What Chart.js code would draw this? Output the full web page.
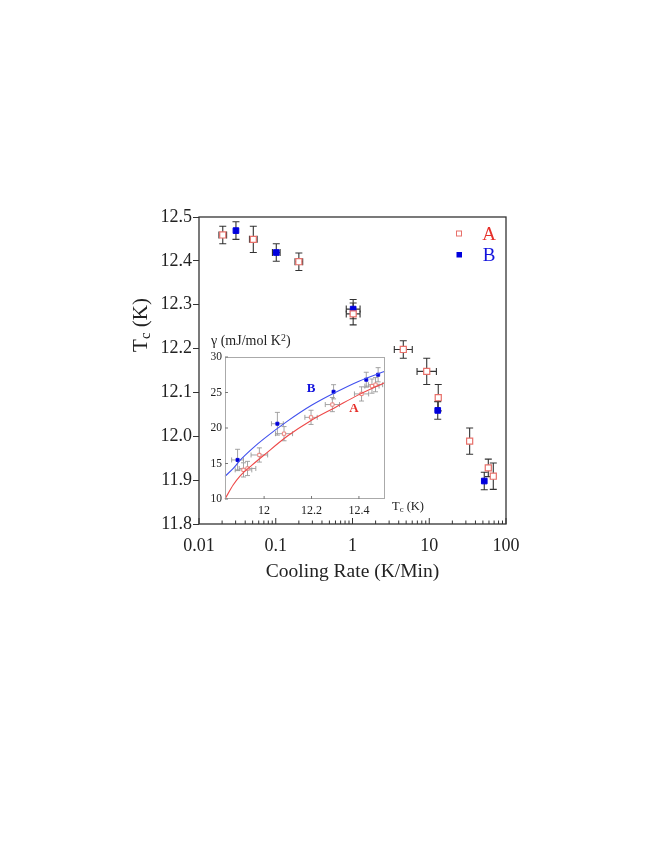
<!DOCTYPE html>
<html>
<head>
<meta charset="utf-8">
<script src="https://cdn.jsdelivr.net/npm/chart.js@4.4.1/dist/chart.umd.min.js"></script>
<style>
  body { margin: 0; background: #fff; }
  #wrap { position: relative; width: 664px; height: 860px; font-family: "Liberation Serif", serif; color: #222; }
  #main { position: absolute; left: 0; top: 0; }
  #insetBox { position: absolute; left: 200px; top: 340px; width: 230px; height: 185px; }
  .lbl { position: absolute; white-space: nowrap; line-height: 1; }
  .lbl sub { font-size: 70%; vertical-align: -0.25em; line-height: 0; }
  .lbl sup { font-size: 70%; vertical-align: 0.45em; line-height: 0; }
  #ytitle { left: 140px; top: 325px; font-size: 21px; transform: translate(-50%, -50%) rotate(-90deg); }
  #gammaLbl { left: 211px; top: 334px; font-size: 14px; }
  #tcLbl { left: 392px; top: 500px; font-size: 12.5px; }
</style>
</head>
<body>
<div id="wrap">
  <canvas id="main" width="664" height="860"></canvas>
  <div id="insetBox"><canvas id="inset" width="230" height="185"></canvas></div>
  <div class="lbl" id="ytitle">T<sub>c</sub> (K)</div>
  <div class="lbl" id="gammaLbl">&gamma; (mJ/mol K<sup>2</sup>)</div>
  <div class="lbl" id="tcLbl">T<sub>c</sub> (K)</div>
</div>
<script>
// -------- MAIN DATA --------
const rateA = [0.0204, 0.051, 0.2, 1.02, 4.59, 9.27, 13.1, 33.6, 58.8, 68.3];
const tcA = [12.459, 12.449, 12.398, 12.279, 12.198, 12.148, 12.088, 11.989, 11.928, 11.909];
const tcErrA = [0.02, 0.03, 0.02, 0.025, 0.02, 0.03, 0.03, 0.03, 0.02, 0.03];
const rateErrA = [0.05, 0.05, 0.05, 0.09, 0.117, 0.126, 0, 0, 0, 0]; // decades

const rateB = [0.0303, 0.1016, 1.02, 12.9, 52.1];
const tcB = [12.469, 12.419, 12.290, 12.059, 11.898];
const tcErrB = [0.02, 0.02, 0.022, 0.02, 0.02];
const rateErrB = [0, 0.05, 0.09, 0, 0];

const xTickVals = [0.01, 0.1, 1, 10, 100];
const xTickLabels = ["0.01", "0.1", "1", "10", "100"];
const yTickVals = [11.8, 11.9, 12.0, 12.1, 12.2, 12.3, 12.4, 12.5];

// -------- INSET DATA --------
const insTcA = [11.913, 11.93, 11.98, 12.084, 12.198, 12.288, 12.411, 12.455, 12.47];
const insGammaA = [14.1, 14.3, 16.2, 19.2, 21.5, 23.3, 24.8, 25.9, 26.1];
const insGammaErrA = [1.0, 1.0, 1.0, 1.0, 1.0, 1.0, 1.0, 1.0, 1.0];
const insTcErrA = [0.035, 0.035, 0.035, 0.036, 0.026, 0.03, 0.03, 0.03, 0.03];

const insTcB = [11.888, 12.056, 12.293, 12.431, 12.481];
const insGammaB = [15.5, 20.6, 25.1, 26.8, 27.5];
const insGammaErrB = [1.5, 1.6, 1.0, 1.05, 1.0];
const insTcErrB = [0.025, 0.025, 0, 0, 0];

// fitted curves
const curveTc = [11.835, 11.87, 11.9, 11.95, 12.0, 12.1, 12.2, 12.3, 12.4, 12.51];
const curveA = [10.0, 12.0, 13.3, 14.8, 16.2, 18.9, 21.1, 22.9, 24.7, 26.4];
const curveB = [13.2, 14.3, 15.5, 17.1, 18.5, 21.0, 23.2, 25.0, 26.6, 28.0];

const insXTicks = [12, 12.2, 12.4];
const insXLabels = ["12", "12.2", "12.4"];
const insYTicks = [10, 15, 20, 25, 30];

const FONT = "Liberation Serif";
const RED = "#e6302a", BLUE = "#1212dd";

// -------- PLUGINS --------
const errorBars = {
    id: "errorBars",
    beforeDatasetsDraw(chart, args, opts) {
        const ctx = chart.ctx;
        const xs = chart.scales.x, ys = chart.scales.y;
        const c = opts.cap;
        ctx.save();
        ctx.strokeStyle = opts.color;
        ctx.lineWidth = opts.width;
        chart.data.datasets.forEach(ds => {
            if (!ds.errY) return;
            ds.data.forEach((p, i) => {
                const px = xs.getPixelForValue(p.x), py = ys.getPixelForValue(p.y);
                const ey = ds.errY[i], ex = ds.errX ? ds.errX[i] : 0;
                ctx.beginPath();
                if (ey) {
                    const y1 = ys.getPixelForValue(p.y - ey), y2 = ys.getPixelForValue(p.y + ey);
                    ctx.moveTo(px, y1); ctx.lineTo(px, y2);
                    ctx.moveTo(px - c, y1); ctx.lineTo(px + c, y1);
                    ctx.moveTo(px - c, y2); ctx.lineTo(px + c, y2);
                }
                if (ex) {
                    const lo = ds.logX ? p.x / Math.pow(10, ex) : p.x - ex;
                    const hi = ds.logX ? p.x * Math.pow(10, ex) : p.x + ex;
                    const x1 = xs.getPixelForValue(lo), x2 = xs.getPixelForValue(hi);
                    ctx.moveTo(x1, py); ctx.lineTo(x2, py);
                    ctx.moveTo(x1, py - c); ctx.lineTo(x1, py + c);
                    ctx.moveTo(x2, py - c); ctx.lineTo(x2, py + c);
                }
                ctx.stroke();
            });
        });
        ctx.restore();
    }
};

const mainFrame = {
    id: "mainFrame",
    afterDraw(chart) {
        const { ctx, chartArea: a } = chart;
        const xs = chart.scales.x;
        ctx.save();
        ctx.strokeStyle = "#333";
        ctx.lineWidth = 1.3;
        ctx.strokeRect(a.left, a.top, a.right - a.left, a.bottom - a.top);
        // inward ticks on log axis
        ctx.lineWidth = 1;
        ctx.beginPath();
        for (let d = 0; d < xTickVals.length; d++) {
            const dec = xTickVals[d];
            const px = xs.getPixelForValue(dec);
            ctx.moveTo(px, a.bottom); ctx.lineTo(px, a.bottom - 6);
            if (d === xTickVals.length - 1) break;
            for (let m = 2; m <= 9; m++) {
                const mx = xs.getPixelForValue(dec * m);
                ctx.moveTo(mx, a.bottom); ctx.lineTo(mx, a.bottom - 3.5);
            }
        }
        ctx.stroke();

        // legend
        const lx = a.right - 47, tx = a.right - 17;
        ctx.lineWidth = 1;
        ctx.strokeStyle = "#e8706a";
        ctx.fillStyle = "#fff";
        ctx.fillRect(lx - 2.5, a.top + 14, 5, 5);
        ctx.strokeRect(lx - 2.5, a.top + 14, 5, 5);
        ctx.fillStyle = "#0000dd";
        ctx.fillRect(lx - 2.5, a.top + 35, 5.5, 5.5);
        ctx.font = "19px " + FONT;
        ctx.textAlign = "center";
        ctx.textBaseline = "middle";
        ctx.fillStyle = RED;
        ctx.fillText("A", tx, a.top + 18);
        ctx.fillStyle = BLUE;
        ctx.fillText("B", tx, a.top + 39);
        ctx.restore();
    }
};

// -------- MAIN CHART --------
new Chart(document.getElementById("main"), {
    type: "scatter",
    data: {
        datasets: [
            {
                label: "A",
                data: rateA.map((r, i) => ({ x: r, y: tcA[i] })),
                errY: tcErrA, errX: rateErrA, logX: true,
                pointStyle: "rect", pointRadius: 4.3, pointHoverRadius: 4.3,
                borderColor: "#e8706a", backgroundColor: "#fff", borderWidth: 1.2
            },
            {
                label: "B",
                data: rateB.map((r, i) => ({ x: r, y: tcB[i] })),
                errY: tcErrB, errX: rateErrB, logX: true,
                pointStyle: "rect", pointRadius: 4, pointHoverRadius: 4,
                borderColor: "#0000dd", backgroundColor: "#0000dd", borderWidth: 1
            }
        ]
    },
    options: {
        responsive: false,
        animation: false,
        layout: { padding: { left: 130, top: 217, right: 158, bottom: 273 } },
        plugins: {
            legend: { display: false },
            tooltip: { enabled: false },
            errorBars: { color: "#333", width: 1.1, cap: 3.5 }
        },
        scales: {
            x: {
                type: "logarithmic",
                min: 0.01, max: 100,
                afterBuildTicks: s => { s.ticks = xTickVals.map(v => ({ value: v })); },
                afterFit: s => { s.height = 63; },
                ticks: {
                    color: "#222", padding: 11, maxRotation: 0, autoSkip: false,
                    font: { family: FONT, size: 18 },
                    callback: (v, i) => xTickLabels[i]
                },
                grid: { display: false, drawTicks: false },
                border: { display: false },
                title: {
                    display: true, text: "Cooling Rate (K/Min)", color: "#222",
                    font: { family: FONT, size: 19.5 }, padding: { top: 0, bottom: 3 }
                }
            },
            y: {
                min: 11.8, max: 12.5,
                afterBuildTicks: s => { s.ticks = yTickVals.map(v => ({ value: v })); },
                afterFit: s => { s.width = 69; },
                ticks: {
                    color: "#222", padding: 1,
                    font: { family: FONT, size: 18 },
                    callback: v => v.toFixed(1)
                },
                grid: { drawOnChartArea: false, drawTicks: true, tickLength: 6, color: "#333" },
                border: { display: false }
            }
        }
    },
    plugins: [errorBars, mainFrame]
});

// -------- INSET --------
const insetFrame = {
    id: "insetFrame",
    beforeDraw(chart) {
        const { ctx, chartArea: a } = chart;
        ctx.save();
        ctx.fillStyle = "#fff";
        ctx.fillRect(a.left, a.top, a.right - a.left, a.bottom - a.top);
        ctx.restore();
    },
    afterDraw(chart) {
        const { ctx, chartArea: a } = chart;
        const xs = chart.scales.x, ys = chart.scales.y;
        ctx.save();
        ctx.strokeStyle = "#aaa";
        ctx.lineWidth = 1;
        ctx.strokeRect(a.left + 0.5, a.top + 0.5, a.right - a.left - 1, a.bottom - a.top - 1);
        ctx.strokeStyle = "#777";
        ctx.beginPath();
        insYTicks.forEach(v => {
            const py = ys.getPixelForValue(v);
            ctx.moveTo(a.left, py); ctx.lineTo(a.left + 3, py);
        });
        insXTicks.forEach(v => {
            const px = xs.getPixelForValue(v);
            ctx.moveTo(px, a.bottom); ctx.lineTo(px, a.bottom - 3);
        });
        ctx.stroke();

        ctx.font = "bold 13px " + FONT;
        ctx.textAlign = "center";
        ctx.textBaseline = "middle";
        ctx.fillStyle = BLUE;
        ctx.fillText("B", xs.getPixelForValue(12.198), ys.getPixelForValue(25.5));
        ctx.fillStyle = RED;
        ctx.fillText("A", xs.getPixelForValue(12.379), ys.getPixelForValue(22.7));
        ctx.restore();
    }
};

new Chart(document.getElementById("inset"), {
    type: "scatter",
    data: {
        datasets: [
            {
                data: curveTc.map((t, i) => ({ x: t, y: curveB[i] })),
                showLine: true, pointRadius: 0, borderColor: "#4050ee", borderWidth: 1.1,
                cubicInterpolationMode: "monotone"
            },
            {
                data: curveTc.map((t, i) => ({ x: t, y: curveA[i] })),
                showLine: true, pointRadius: 0, borderColor: "#ee4848", borderWidth: 1.1,
                cubicInterpolationMode: "monotone"
            },
            {
                data: insTcA.map((t, i) => ({ x: t, y: insGammaA[i] })),
                errY: insGammaErrA, errX: insTcErrA,
                pointStyle: "rect", pointRadius: 2.3, pointHoverRadius: 2.3,
                borderColor: "#ec7b74", backgroundColor: "#fff", borderWidth: 0.9
            },
            {
                data: insTcB.map((t, i) => ({ x: t, y: insGammaB[i] })),
                errY: insGammaErrB, errX: insTcErrB,
                pointStyle: "rect", pointRadius: 2.2, pointHoverRadius: 2.2,
                borderColor: "#0000dd", backgroundColor: "#0000dd", borderWidth: 0.8
            }
        ]
    },
    options: {
        responsive: false,
        animation: false,
        clip: false,
        layout: { padding: { left: 0, top: 17, right: 45, bottom: 6 } },
        plugins: {
            legend: { display: false },
            tooltip: { enabled: false },
            errorBars: { color: "#999", width: 0.9, cap: 2.5 }
        },
        scales: {
            x: {
                type: "linear", min: 11.835, max: 12.51,
                afterBuildTicks: s => { s.ticks = insXTicks.map(v => ({ value: v })); },
                afterFit: s => { s.height = 20; },
                ticks: {
                    color: "#222", padding: 5, maxRotation: 0, autoSkip: false,
                    font: { family: FONT, size: 12 },
                    callback: (v, i) => insXLabels[i]
                },
                grid: { display: false, drawTicks: false },
                border: { display: false }
            },
            y: {
                min: 10, max: 30,
                afterBuildTicks: s => { s.ticks = insYTicks.map(v => ({ value: v })); },
                afterFit: s => { s.width = 25; },
                ticks: {
                    color: "#222", padding: 3,
                    font: { family: FONT, size: 11.5 }
                },
                grid: { display: false, drawTicks: false },
                border: { display: false }
            }
        }
    },
    plugins: [insetFrame, errorBars]
});
</script>
</body>
</html>
